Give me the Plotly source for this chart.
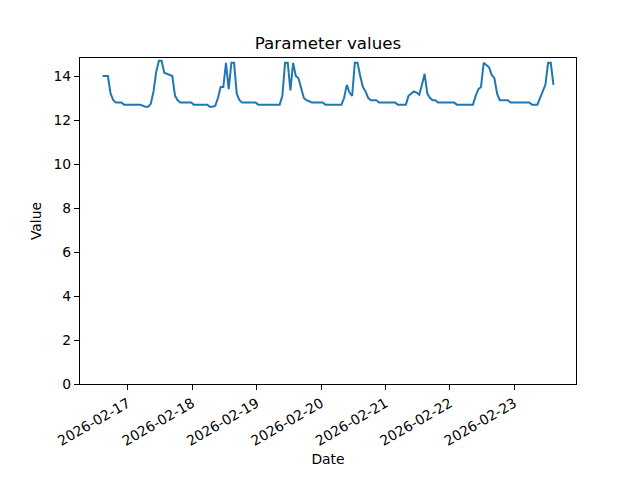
import pandas as pd
import plotly.graph_objects as go

start_time = "2026-02-16 14:35"
values = [
    14.0, 14.0, 14.0, 13.2, 12.9, 12.8, 12.8, 12.8, 12.7, 12.7,
    12.7, 12.7, 12.7, 12.7, 12.7, 12.65, 12.6, 12.6, 12.75, 13.3,
    14.2, 14.7, 14.7, 14.15, 14.1, 14.05, 14.0, 13.1, 12.9, 12.8,
    12.8, 12.8, 12.8, 12.8, 12.7, 12.7, 12.7, 12.7, 12.7, 12.7,
    12.6, 12.6, 12.65, 13.0, 13.5, 13.5, 14.6, 13.4, 14.6, 14.6,
    13.2, 12.9, 12.8, 12.8, 12.8, 12.8, 12.8, 12.8, 12.7, 12.7,
    12.7, 12.7, 12.7, 12.7, 12.7, 12.7, 12.7, 13.1, 14.6, 14.6,
    13.35, 14.6, 14.0, 13.9, 13.5, 13.0, 12.9, 12.85, 12.8, 12.8,
    12.8, 12.8, 12.8, 12.7, 12.7, 12.7, 12.7, 12.7, 12.7, 12.7,
    13.0, 13.6, 13.25, 13.1, 14.6, 14.6, 14.0, 13.5, 13.3, 13.0,
    12.9, 12.9, 12.9, 12.8, 12.8, 12.8, 12.8, 12.8, 12.8, 12.8,
    12.7, 12.7, 12.7, 12.7, 13.1, 13.2, 13.3, 13.25, 13.15, 13.6,
    14.1, 13.2, 13.0, 12.9, 12.9, 12.8, 12.8, 12.8, 12.8, 12.8,
    12.8, 12.8, 12.7, 12.7, 12.7, 12.7, 12.7, 12.7, 12.7, 13.1,
    13.4, 13.5, 14.6, 14.5, 14.4, 14.05, 13.9, 13.2, 12.9, 12.9,
    12.9, 12.9, 12.8, 12.8, 12.8, 12.8, 12.8, 12.8, 12.8, 12.8,
    12.7, 12.7, 12.7, 13.0, 13.3, 13.6, 14.6, 14.6, 13.6,
]
tick_dates = ["2026-02-17", "2026-02-18", "2026-02-19", "2026-02-20",
              "2026-02-21", "2026-02-22", "2026-02-23"]
y_ticks = [0, 2, 4, 6, 8, 10, 12, 14]

times = pd.date_range(start_time, periods=len(values), freq="h")
span = times[-1] - times[0]
x_range = [times[0] - 0.05 * span, times[-1] + 0.05 * span]

fig = go.Figure()
fig.add_trace(go.Scatter(x=times, y=values, mode="lines",
                         line=dict(color="#1f77b4", width=2.0)))

font = "DejaVu Sans, sans-serif"
fig.update_layout(
    width=640, height=480,
    margin=dict(l=80, r=64, t=58, b=96),
    paper_bgcolor="white", plot_bgcolor="white",
    showlegend=False,
    font=dict(family=font, size=13.9, color="black"),
    title=dict(text="Parameter values", x=0.5, xanchor="center",
               xref="paper", y=1 - 43 / 480, yanchor="middle",
               font=dict(size=16.7, family=font, color="black")),
)
fig.update_xaxes(
    range=x_range, tickvals=pd.to_datetime(tick_dates), ticktext=tick_dates,
    tickangle=-30, ticks="outside", ticklen=5, tickwidth=1.1, tickcolor="black",
    showline=True, linecolor="black", linewidth=1.1, mirror=True,
    showgrid=False, zeroline=False,
    title=dict(text="Date", standoff=6, font=dict(size=13.9)),
)
fig.update_yaxes(
    range=[0, 14.82], tickvals=y_ticks, ticks="outside", ticklen=5,
    tickwidth=1.1, tickcolor="black",
    showline=True, linecolor="black", linewidth=1.1, mirror=True,
    showgrid=False, zeroline=False,
    title=dict(text="Value", standoff=8, font=dict(size=13.9)),
)
fig.write_html("out.html",
               config={"displayModeBar": False},
               post_script="document.body.style.margin='0';")
